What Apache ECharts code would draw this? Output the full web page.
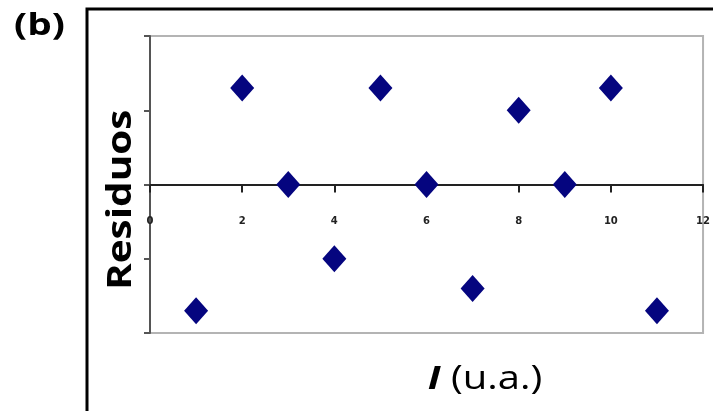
<!DOCTYPE html>
<html>
<head>
<meta charset="utf-8">
<script src="https://cdn.jsdelivr.net/npm/echarts@6/dist/echarts.min.js"></script>
<style>
  html, body { margin: 0; padding: 0; background: #fff; }
  #chart { width: 713px; height: 411px; }
</style>
</head>
<body>
<div id="chart"></div>
<script>
// intensity I (u.a.) and residuals
const intensity = [1, 2, 3, 4, 5, 6, 7, 8, 9, 10, 11];
const residuals = [-1.7, 1.3, 0, -1.0, 1.3, 0, -1.4, 1.0, 0, 1.3, -1.7];
const xTicks = [0, 2, 4, 6, 8, 10, 12];

const chart = echarts.init(document.getElementById('chart'));
chart.setOption({
  backgroundColor: '#fff',
  animation: false,
  grid: { left: 150, top: 36, width: 556, height: 297, show: true, borderColor: '#b4b4b4', borderWidth: 2, backgroundColor: 'transparent' },
  xAxis: {
    type: 'value', min: xTicks[0], max: xTicks[xTicks.length - 1], interval: 2,
    // the axis sits on y = 0, half way up the plot
    offset: -148.5,
    axisLine: { onZero: false, lineStyle: { color: '#222', width: 2 } },
    axisTick: { show: true, length: 8, lineStyle: { color: '#222', width: 2 } },
    axisLabel: { margin: 32, color: '#222', fontSize: 10, fontWeight: 'bold', fontFamily: 'DejaVu Sans' },
    splitLine: { show: false }
  },
  yAxis: {
    type: 'value', min: -2, max: 2, interval: 1,
    axisLine: { onZero: false, lineStyle: { color: '#555', width: 2 } },
    axisTick: { show: true, length: 6, lineStyle: { color: '#555', width: 2 } },
    axisLabel: { show: false },
    splitLine: { show: false }
  },
  series: [{
    type: 'scatter',
    data: intensity.map((x, i) => [x, residuals[i]]),
    symbol: 'diamond', symbolSize: [24, 27],
    itemStyle: { color: '#05057f', opacity: 1 },
    z: 5
  }],
  graphic: [
    { type: 'rect', shape: { x: 87, y: 9, width: 700, height: 500 }, style: { fill: 'none', stroke: '#000', lineWidth: 3 }, z: -1 },
    { type: 'text', x: 14, y: 11, scaleX: 1.25, style: { text: '(b)', font: 'bold 31px "Open Sans"', fill: '#000' } },
    { type: 'text', x: 104, y: 290, rotation: Math.PI / 2, scaleX: 1.19, style: { text: 'Residuos', font: 'bold 34px "Open Sans"', fill: '#000', textVerticalAlign: 'top' } },
    { type: 'text', x: 485, y: 380, scaleX: 1.25, style: {
        text: '{i|I} (u.a.)', textAlign: 'center', textVerticalAlign: 'middle',
        font: '32px "Open Sans"', fill: '#000',
        rich: { i: { font: 'italic bold 32px "Open Sans"', fill: '#000' } }
    } }
  ]
});
</script>
</body>
</html>
